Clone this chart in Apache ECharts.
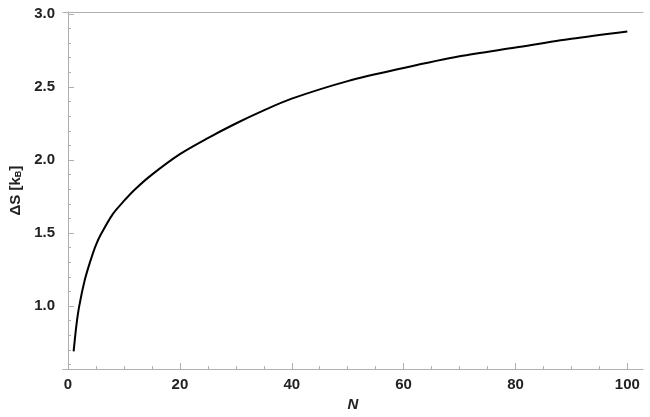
<!DOCTYPE html><html><head><meta charset="utf-8"><script src="https://cdn.jsdelivr.net/npm/echarts@6/dist/echarts.min.js"></script></head><body style="margin:0"><div id="c" style="width:650px;height:417px"></div><script>
const nVals=[1,1.5,2,3,4,5,6,8,10,12,15,20,25,30,35,40,50,60,70,80,90,100];
const dS=[0.69,0.87,1.0,1.18,1.31,1.42,1.50,1.63,1.72,1.80,1.90,2.04,2.15,2.25,2.34,2.42,2.54,2.63,2.71,2.77,2.83,2.88];
const xTicks=[0,20,40,60,80,100];
const yTicks=[1.0,1.5,2.0,2.5,3.0];
const xMinor=[];for(let v=0;v<=100;v+=5)if(v%20)xMinor.push(v);
const yMinor=[];for(let v=6;v<=30;v++)if(v%5)yMinor.push(v/10);
const gray='#b0b0b0',font={fontFamily:'Liberation Sans',fontWeight:'bold',fontSize:15,color:'#222'};
const xr={min:-0.9,max:102.8,type:'value'},yr={min:0.569,max:3.013,type:'value'};
const c=echarts.init(document.getElementById('c'));
c.setOption({animation:false,grid:{left:58,right:7,top:12,bottom:42},
xAxis:[
{...xr,position:'bottom',axisLine:{lineStyle:{color:gray}},splitLine:{show:false},axisTick:{inside:true,length:6,lineStyle:{color:gray},customValues:xTicks},axisLabel:{...font,margin:8,customValues:xTicks,formatter:v=>v},name:'N',nameLocation:'middle',nameGap:24,nameTextStyle:{...font,fontStyle:'italic'}},
{...xr,position:'bottom',axisLine:{show:false},splitLine:{show:false},axisTick:{show:true,inside:true,length:3,lineStyle:{color:gray},customValues:xMinor},axisLabel:{show:true,color:'rgba(0,0,0,0)',customValues:xMinor}},
{...xr,position:'top',axisLine:{lineStyle:{color:gray}},splitLine:{show:false},axisTick:{show:false},axisLabel:{show:false}}],
yAxis:[
{...yr,position:'left',axisLine:{lineStyle:{color:gray}},splitLine:{show:false},axisTick:{inside:true,length:6,lineStyle:{color:gray},customValues:yTicks},axisLabel:{...font,margin:8,customValues:yTicks,formatter:v=>v.toFixed(1)},name:'ΔS [k{s|B}]',nameLocation:'middle',nameGap:40,nameTextStyle:{...font,rich:{s:{fontFamily:'Liberation Sans',fontWeight:'bold',fontSize:9,color:'#222',padding:[0,0,-6,0]}}}},
{...yr,position:'left',axisLine:{show:false},splitLine:{show:false},axisTick:{show:true,inside:true,length:3,lineStyle:{color:gray},customValues:yMinor},axisLabel:{show:true,color:'rgba(0,0,0,0)',customValues:yMinor}},
{...yr,position:'right',axisLine:{lineStyle:{color:gray}},splitLine:{show:false},axisTick:{show:false},axisLabel:{show:false}}],
series:[{type:'line',data:nVals.map((n,i)=>[n,dS[i]]),smooth:0.3,showSymbol:false,lineStyle:{color:'#000',width:2}}]});
</script></body></html>
